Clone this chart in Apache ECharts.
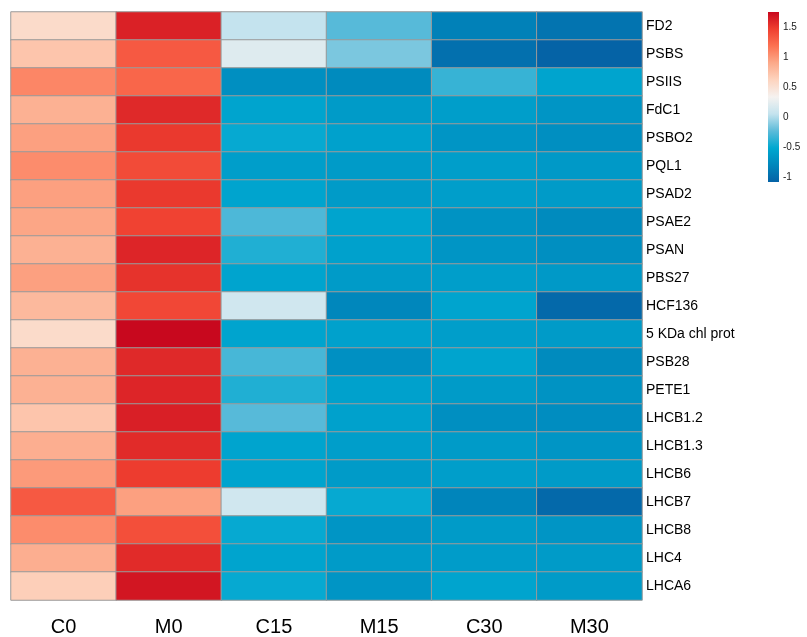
<!DOCTYPE html>
<html>
<head>
<meta charset="utf-8">
<script src="https://cdn.jsdelivr.net/npm/echarts@6/dist/echarts.min.js"></script>
<style>
  html, body { margin: 0; padding: 0; background: #fff; }
  #chart { width: 807px; height: 637px; }
</style>
</head>
<body>
<div id="chart"></div>
<script>
// Sample groups (columns) and genes (rows), row-scaled expression values
const samples = ['C0', 'M0', 'C15', 'M15', 'C30', 'M30'];
const genes = ['FD2', 'PSBS', 'PSIIS', 'FdC1', 'PSBO2', 'PQL1', 'PSAD2', 'PSAE2', 'PSAN', 'PBS27',
  'HCF136', '5 KDa chl prot', 'PSB28', 'PETE1', 'LHCB1.2', 'LHCB1.3', 'LHCB6', 'LHCB7', 'LHCB8', 'LHC4', 'LHCA6'];

const FD2 = [0.55, 1.62, 0.05, -0.25, -0.85, -0.95];
const PSBS = [0.72, 1.32, 0.20, -0.15, -0.98, -1.08];
const PSIIS = [1.08, 1.25, -0.73, -0.77, -0.35, -0.55];
const FdC1 = [0.85, 1.58, -0.55, -0.63, -0.60, -0.68];
const PSBO2 = [0.95, 1.50, -0.50, -0.58, -0.68, -0.73];
const PQL1 = [1.05, 1.40, -0.60, -0.63, -0.60, -0.65];
const PSAD2 = [0.95, 1.50, -0.55, -0.63, -0.60, -0.63];
const PSAE2 = [0.92, 1.45, -0.28, -0.55, -0.70, -0.77];
const PSAN = [0.85, 1.60, -0.42, -0.58, -0.68, -0.73];
const PBS27 = [0.95, 1.53, -0.55, -0.63, -0.60, -0.65];
const HCF136 = [0.80, 1.42, 0.12, -0.80, -0.55, -1.03];
const KDa5 = [0.55, 1.75, -0.55, -0.58, -0.60, -0.63];
const PSB28 = [0.85, 1.58, -0.30, -0.72, -0.55, -0.77];
const PETE1 = [0.85, 1.60, -0.42, -0.58, -0.63, -0.70];
const LHCB1_2 = [0.72, 1.63, -0.25, -0.58, -0.73, -0.75];
const LHCB1_3 = [0.87, 1.57, -0.55, -0.60, -0.63, -0.68];
const LHCB6 = [0.98, 1.48, -0.55, -0.63, -0.60, -0.63];
const LHCB7 = [1.32, 0.95, 0.12, -0.50, -0.82, -1.03];
const LHCB8 = [1.05, 1.38, -0.50, -0.68, -0.63, -0.68];
const LHC4 = [0.87, 1.57, -0.55, -0.63, -0.62, -0.63];
const LHCA6 = [0.65, 1.68, -0.50, -0.68, -0.55, -0.63];

const rows = [FD2, PSBS, PSIIS, FdC1, PSBO2, PQL1, PSAD2, PSAE2, PSAN, PBS27,
  HCF136, KDa5, PSB28, PETE1, LHCB1_2, LHCB1_3, LHCB6, LHCB7, LHCB8, LHC4, LHCA6];

// Colour bar tick labels
const legendTicks = [-1, -0.5, 0, 0.5, 1, 1.5];

// Blue - cyan - white - red palette, evenly spread over the data range
const palette = ['#0562a6', '#0087bc', '#00a8d0', '#5cbbd9', '#c4e3ee', '#f5f2f0',
  '#fdd4bf', '#fcaa8a', '#fc7252', '#ef3f30', '#c8081e'];

const cells = [];
rows.forEach((vals, r) => vals.forEach((v, c) => cells.push([c, r, v])));
const allVals = cells.map(d => d[2]);
const vMin = Math.min(...allVals) - 0.005;
const vMax = Math.max(...allVals);

const font = 'Liberation Sans, Arial, sans-serif';
const chart = echarts.init(document.getElementById('chart'));

chart.setOption({
  backgroundColor: '#fff',
  animation: false,
  grid: [
    { left: 11, top: 12, width: 631, height: 588 },
    { left: 768, top: 12, width: 11, height: 170 }
  ],
  xAxis: [
    {
      gridIndex: 0, type: 'category', data: samples, position: 'bottom',
      axisLine: { show: false }, axisTick: { show: false }, splitLine: { show: false },
      axisLabel: { fontSize: 20, color: '#000', margin: 17, fontFamily: font }
    },
    { gridIndex: 1, type: 'category', data: [''], show: false }
  ],
  yAxis: [
    {
      gridIndex: 0, type: 'category', data: genes, inverse: true, position: 'right',
      axisLine: { show: false }, axisTick: { show: false }, splitLine: { show: false },
      axisLabel: { fontSize: 14, color: '#000', margin: 4, fontFamily: font }
    },
    {
      gridIndex: 1, type: 'value', min: vMin, max: vMax, position: 'right',
      axisLine: { show: false }, axisTick: { show: false }, splitLine: { show: false },
      axisLabel: { fontSize: 10, color: '#222', margin: 4, fontFamily: font,
        customValues: legendTicks, formatter: v => String(v) }
    }
  ],
  visualMap: {
    show: false, type: 'continuous', seriesIndex: 0, dimension: 2,
    min: vMin, max: vMax, inRange: { color: palette }
  },
  series: [
    {
      type: 'heatmap', xAxisIndex: 0, yAxisIndex: 0, data: cells,
      itemStyle: { borderColor: '#9a9a9a', borderWidth: 1 },
      emphasis: { disabled: true }
    },
    {
      // Colour bar drawn as one gradient rectangle spanning the value range
      type: 'custom', xAxisIndex: 1, yAxisIndex: 1, data: [[0, vMin, vMax]],
      renderItem: (params, api) => {
        const top = api.coord([0, api.value(2)]);
        const bottom = api.coord([0, api.value(1)]);
        const w = api.size([1, 0])[0];
        const stops = palette.map((c, i) => ({ offset: i / (palette.length - 1), color: c })).reverse()
          .map((s, i, arr) => ({ offset: i / (arr.length - 1), color: s.color }));
        return {
          type: 'rect',
          shape: { x: top[0] - w / 2, y: top[1], width: w, height: bottom[1] - top[1] },
          style: { fill: new echarts.graphic.LinearGradient(0, 0, 0, 1, stops) }
        };
      },
      silent: true
    }
  ]
});
</script>
</body>
</html>
